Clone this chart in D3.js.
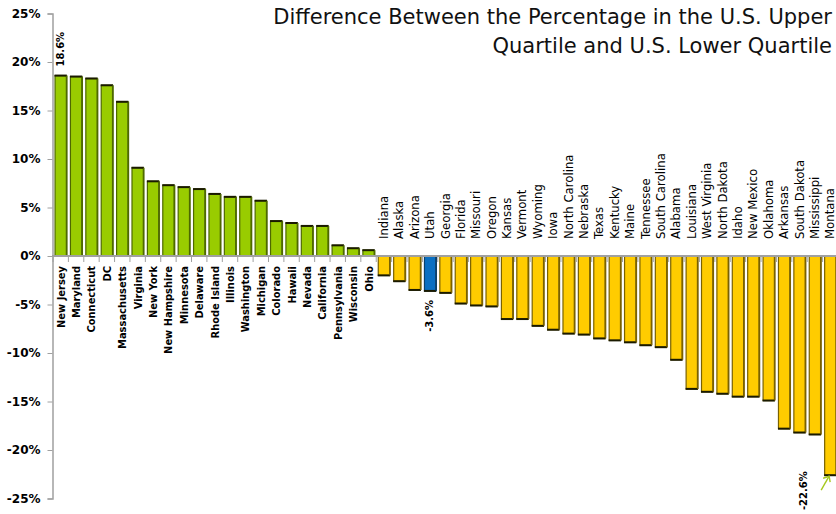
<!DOCTYPE html>
<html>
<head>
<meta charset="utf-8">
<script src="https://cdn.jsdelivr.net/npm/d3@7"></script>
<style>
  html, body { margin: 0; padding: 0; background: #fff; }
  svg { display: block; }
</style>
</head>
<body>
<svg id="chart" width="836" height="514"></svg>
<script>
// ---- data ----
const states = ["New Jersey","Maryland","Connecticut","DC","Massachusetts","Virginia","New York",
  "New Hampshire","Minnesota","Delaware","Rhode Island","Illinois","Washington","Michigan",
  "Colorado","Hawaii","Nevada","California","Pennsylvania","Wisconsin","Ohio",
  "Indiana","Alaska","Arizona","Utah","Georgia","Florida","Missouri","Oregon","Kansas","Vermont",
  "Wyoming","Iowa","North Carolina","Nebraska","Texas","Kentucky","Maine","Tennessee",
  "South Carolina","Alabama","Louisiana","West Virginia","North Dakota","Idaho","New Mexico",
  "Oklahoma","Arkansas","South Dakota","Mississippi","Montana"];
const values = [18.6,18.5,18.3,17.6,15.9,9.1,7.7,
  7.3,7.1,6.9,6.4,6.1,6.1,5.7,
  3.6,3.4,3.1,3.1,1.1,0.8,0.6,
  -2.0,-2.6,-3.5,-3.6,-3.8,-4.9,-5.1,-5.2,-6.5,-6.5,
  -7.2,-7.6,-8.0,-8.1,-8.5,-8.7,-8.9,-9.2,
  -9.4,-10.7,-13.7,-14.0,-14.2,-14.5,-14.5,
  -14.9,-17.8,-18.2,-18.4,-22.6];
const yTicks = [25,20,15,10,5,0,-5,-10,-15,-20,-25];
const highlightState = "Utah";
const annotStates = ["New Jersey","Utah","Montana"];
const annotLabels = ["18.6%","-3.6%","-22.6%"];
const titleLines = ["Difference Between the Percentage in the U.S. Upper",
                    "Quartile and U.S. Lower Quartile"];

const data = states.map((s, i) => ({state: s, value: values[i]}));

// ---- layout ----
const svg = d3.select("#chart");
const x = d3.scaleBand().domain(states).range([53, 838]).paddingInner(0.2).paddingOuter(0.1);
const y = d3.scaleLinear().domain([-25, 25]).range([498.5, 13.5]);
const bw = x.bandwidth();

const fillColor = d => d.state === highlightState ? "#0A6FC2" : (d.value >= 0 ? "#99CC00" : "#FFCC00");
const edgeColor = d => d.state === highlightState ? "#0B3F6B" : (d.value >= 0 ? "#4E6900" : "#7A6200");

// title
svg.append("g").selectAll("text").data(titleLines).join("text")
  .attr("x", 832).attr("y", (d, i) => 24 + i * 29)
  .attr("text-anchor", "end")
  .attr("font-family", "'DejaVu Sans', sans-serif")
  .attr("font-size", 21).attr("fill", "#111")
  .text(d => d);

// y axis
const yAxis = d3.axisLeft(y).tickValues(yTicks).tickSize(5).tickFormat(d => d + "%");
const gy = svg.append("g").attr("transform", "translate(52.5,0)").call(yAxis);
gy.select(".domain").attr("stroke", "#a0a0a0").attr("stroke-width", 1.5);
gy.selectAll(".tick line").attr("stroke", "#a0a0a0");
gy.selectAll(".tick text")
  .attr("x", -12)
  .attr("font-family", "'DejaVu Sans', sans-serif")
  .attr("font-weight", "bold").attr("font-size", 12).attr("fill", "#000");

// bars
const bars = svg.append("g");
bars.selectAll("rect.bar").data(data).join("rect")
  .attr("class", "bar")
  .attr("x", d => x(d.state) + 0.5)
  .attr("y", d => Math.min(y(d.value), y(0)))
  .attr("width", bw - 1)
  .attr("height", d => Math.abs(y(d.value) - y(0)))
  .attr("fill", fillColor)
  .attr("stroke", edgeColor)
  .attr("stroke-width", 1.2);
// dark end cap
bars.selectAll("line.cap").data(data).join("line")
  .attr("class", "cap")
  .attr("x1", d => x(d.state)).attr("x2", d => x(d.state) + bw)
  .attr("y1", d => y(d.value))
  .attr("y2", d => y(d.value))
  .attr("stroke", "#1a1a00").attr("stroke-width", 2);
// right shadow edge
bars.selectAll("line.edge").data(data).join("line")
  .attr("class", "edge")
  .attr("x1", d => x(d.state) + bw).attr("x2", d => x(d.state) + bw)
  .attr("y1", y(0)).attr("y2", d => y(d.value))
  .attr("stroke", edgeColor).attr("stroke-width", 1.5);

// zero line
svg.append("line")
  .attr("x1", 52).attr("x2", 838).attr("y1", y(0)).attr("y2", y(0))
  .attr("stroke", "#a0a0a0").attr("stroke-width", 2);
// category ticks
const step = x.step();
svg.append("g").selectAll("line").data(states).join("line")
  .attr("x1", d => x(d) - (step - bw) / 2)
  .attr("x2", d => x(d) - (step - bw) / 2)
  .attr("y1", y(0)).attr("y2", y(0) + 6)
  .attr("stroke", "#a0a0a0").attr("stroke-width", 1);

// category labels
const labels = svg.append("g");
labels.selectAll("text").data(data).join("text")
  .attr("transform", d => {
    const cx = x(d.state) + bw / 2 + 4;
    return d.value >= 0 ? `translate(${cx},${y(0) + 10}) rotate(-90)`
                        : `translate(${cx},${y(0) - 17}) rotate(-90)`;
  })
  .attr("text-anchor", d => d.value >= 0 ? "end" : "start")
  .attr("font-family", "'DejaVu Sans Condensed', 'DejaVu Sans', sans-serif")
  .attr("font-weight", d => d.value >= 0 ? "bold" : "normal")
  .attr("font-size", d => d.value >= 0 ? 11 : 13)
  .attr("fill", "#000")
  .text(d => d.state);

// value annotations
const annot = annotStates.map((s, i) => ({state: s, label: annotLabels[i], value: values[states.indexOf(s)]}));
svg.append("g").selectAll("text").data(annot).join("text")
  .attr("transform", d => {
    const cx = x(d.state) + bw / 2 + 3;
    if (d.value >= 0) return `translate(${cx},${y(d.value) - 9}) rotate(-90)`;
    if (d.state === "Montana") return `translate(${cx - 26},${y(d.value) - 4}) rotate(-90)`;
    return `translate(${cx},${y(d.value) + 9}) rotate(-90)`;
  })
  .attr("text-anchor", d => d.value >= 0 ? "start" : "end")
  .attr("font-family", "'DejaVu Sans', sans-serif")
  .attr("font-weight", "bold").attr("font-size", 10).attr("fill", "#000")
  .text(d => d.label);

// arrow pointing at the Montana bar end
const mx = x("Montana"), my = y(values[states.indexOf("Montana")]);
const arrow = svg.append("g").attr("stroke", "#A6C81E").attr("stroke-width", 1.4).attr("fill", "none");
arrow.append("line").attr("x1", mx - 3).attr("y1", my + 15).attr("x2", mx + 5).attr("y2", my + 1);
arrow.append("polyline").attr("points", `${mx - 1},${my + 3} ${mx + 5},${my + 1} ${mx + 6},${my + 7}`);
</script>
</body>
</html>
